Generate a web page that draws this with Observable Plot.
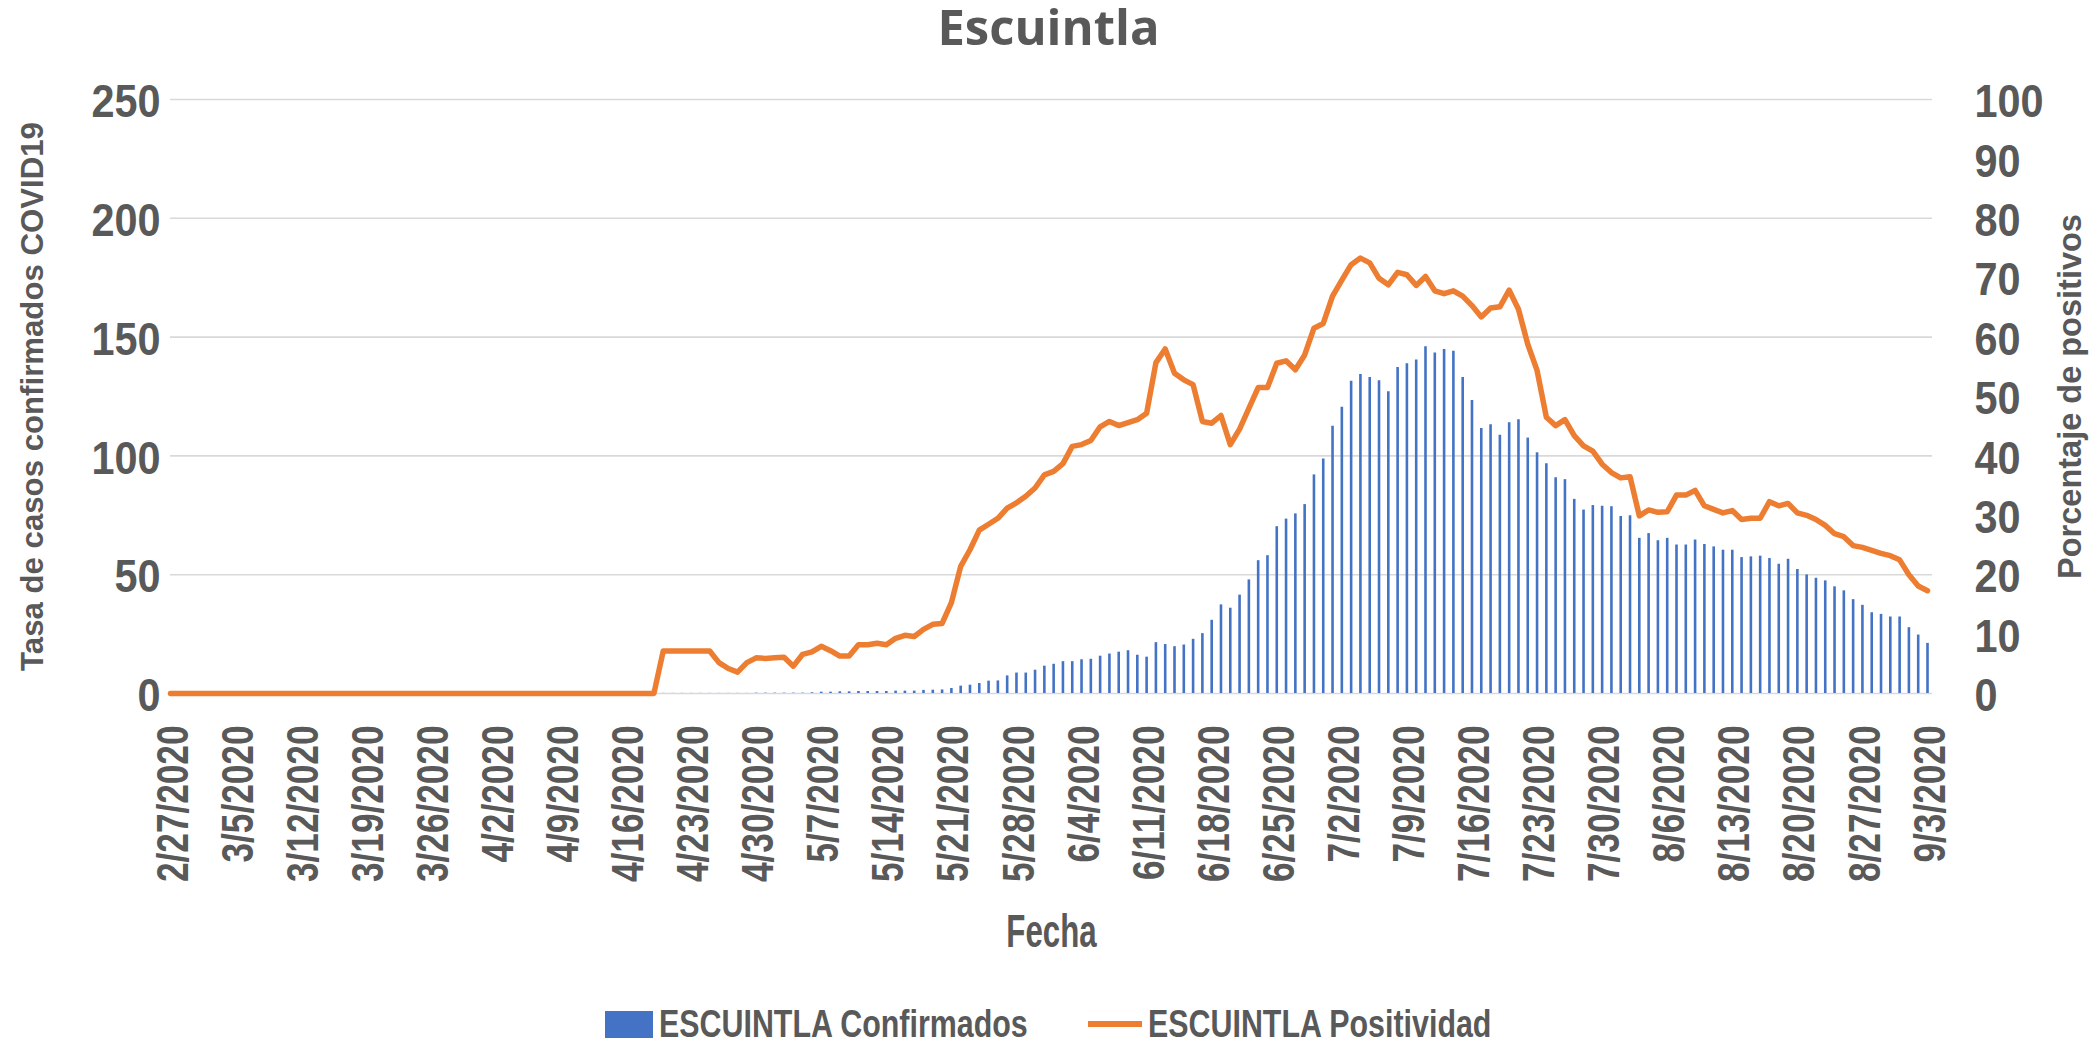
<!DOCTYPE html>
<html><head><meta charset="utf-8">
<script src="https://cdn.jsdelivr.net/npm/d3@7"></script>
<script src="https://cdn.jsdelivr.net/npm/@observablehq/plot@0.6"></script>
<style>
body{margin:0;background:#fff;width:2097px;height:1045px;overflow:hidden;position:relative}
#title{position:absolute;top:2px;left:0;width:2097px;text-align:center;font-family:"Open Sans",sans-serif;font-weight:bold;font-size:49px;line-height:1;color:#595959}
#chart{position:absolute;top:52px;left:0}
#legend{position:absolute;top:1000px;left:0;width:2097px;height:48px;display:flex;justify-content:center;align-items:center;font-family:"Liberation Sans",sans-serif;font-weight:bold;font-size:38px;color:#595959}
.item{display:flex;align-items:center}
.t{display:inline-block;transform:scaleX(0.8);transform-origin:0 50%;white-space:nowrap}
.sw-bar{display:inline-block;width:48px;height:27px;background:#4472C4;margin-right:6px}
.sw-line{display:inline-block;width:54px;height:6px;background:#ED7D31;margin-right:6px;margin-left:60px}
</style></head>
<body>
<div id="title">Escuintla</div>
<div id="chart"></div>
<div id="legend"><div class="item"><span class="sw-bar"></span><span class="t">ESCUINTLA Confirmados</span></div><div class="item"><span class="sw-line"></span><span class="t">ESCUINTLA Positividad</span></div></div>
<script>
const xTickLabels = ["2/27/2020","3/5/2020","3/12/2020","3/19/2020","3/26/2020","4/2/2020","4/9/2020","4/16/2020","4/23/2020","4/30/2020","5/7/2020","5/14/2020","5/21/2020","5/28/2020","6/4/2020","6/11/2020","6/18/2020","6/25/2020","7/2/2020","7/9/2020","7/16/2020","7/23/2020","7/30/2020","8/6/2020","8/13/2020","8/20/2020","8/27/2020","9/3/2020"];
const leftTicks = [0,50,100,150,200,250];
const rightTicks = [0,10,20,30,40,50,60,70,80,90,100];
// daily confirmed rate, 2/27/2020 .. 9/3/2020
const confirmados = [
0,0,0,0,0,0,0,0,0,0, 0,0,0,0,0,0,0,0,0,0, 0,0,0,0,0,0,0,0,0,0,
0,0,0,0,0,0,0,0,0,0, 0,0,0,0,0,0,0,0,0,0, 0,0,0,
0.05,0.05,0.05,0.05,0.05,0.05,0.05,0.05,0.05,0.05,
0.15,0.15,0.15,0.15,0.15,0.15,
0.3,0.55,0.55,0.7,0.7,0.85,0.85,0.85,0.85,1.0,1.0,1.0,1.3,1.4,1.5,
2.1,3.1,3.5,4.2,5.2,5.3,7.4,8.6,8.6,9.8,11.5,12.3,13.4,13.4,14.2,14.4,
15.7,16.6,17.4,18.0,16.1,15.3,21.4,20.6,19.7,20.4,22.8,25.2,30.8,37.3,35.9,
41.4,47.8,55.9,58.0,70.2,73.4,75.6,79.5,92.0,98.7,112.5,120.5,131.4,134.3,133.0,
131.6,127.0,137.2,138.8,140.4,145.9,143.3,144.8,144.0,133.0,123.3,111.5,113.1,108.7,113.9,
115.2,107.5,101.3,96.7,90.8,90.0,81.7,77.2,79.1,78.8,78.6,74.5,74.8,65.3,67.3,
64.3,65.3,62.5,62.5,64.6,62.7,61.7,60.3,60.3,57.2,57.5,57.8,56.8,54.4,56.5,
52.2,49.9,48.5,47.4,44.9,43.2,39.5,37.1,34.0,33.3,32.2,32.2,27.7,24.6,21.1
];
// daily positivity (%), same dates
const positividad = [
0,0,0,0,0,0,0,0,0,0, 0,0,0,0,0,0,0,0,0,0, 0,0,0,0,0,0,0,0,0,0,
0,0,0,0,0,0,0,0,0,0, 0,0,0,0,0,0,0,0,0,0, 0,0,0,
7.14,7.14,7.14,7.14,7.14,7.14,
5.2,4.2,3.6,5.2,6.0,5.9,6.0,6.1,4.6,6.6,7.0,7.95,7.2,6.3,6.3,
8.2,8.2,8.45,8.2,9.3,9.8,9.6,10.8,11.65,11.8,15.3,21.4,24.2,27.5,28.5,
29.5,31.2,32.1,33.2,34.6,36.8,37.4,38.7,41.6,41.9,42.6,44.9,45.8,45.1,45.6,
46.1,47.2,55.7,58.0,53.9,52.8,52.0,45.8,45.5,46.8,41.9,44.5,48.0,51.5,51.5,
55.6,56.0,54.5,57.0,61.5,62.3,66.9,69.6,72.2,73.3,72.5,69.9,68.8,70.9,70.5,
68.7,70.2,67.8,67.3,67.8,66.9,65.3,63.4,64.9,65.1,67.9,64.7,58.8,54.4,46.5,
45.1,46.1,43.4,41.7,40.8,38.6,37.2,36.3,36.5,29.9,30.9,30.5,30.6,33.4,33.4,
34.2,31.6,31.0,30.4,30.8,29.3,29.5,29.5,32.3,31.6,32.0,30.4,30.0,29.3,28.3,
26.9,26.4,24.9,24.6,24.1,23.6,23.2,22.5,20.0,18.1,17.3
];
const FONT = '"Liberation Sans",Arial,sans-serif';
const parseMDY = s => { const [m, d, y] = s.split("/").map(Number); return new Date(Date.UTC(y, m - 1, d)); };
const tickDates = xTickLabels.map(parseMDY);
const dates = d3.utcDay.range(tickDates[0], d3.utcDay.offset(tickDates[tickDates.length - 1], 1));
const K = 250 / 100; // right axis (0-100) mapped onto left axis (0-250)
const data = dates.map((d, i) => ({date: d, conf: confirmados[i], pos: positividad[i] * K}));
const labelOf = new Map(tickDates.map((d, i) => [+d, xTickLabels[i]]));

const chart = Plot.plot({
  width: 2097, height: 920,
  marginTop: 47, marginBottom: 279, marginLeft: 170, marginRight: 165,
  style: {fontFamily: FONT, color: "#595959", background: "white", overflow: "visible"},
  x: {type: "utc", domain: [dates[0], dates[dates.length - 1]], range: [170, 1927]},
  y: {domain: [0, 250]},
  marks: [
    Plot.gridY(leftTicks, {stroke: "#D9D9D9", strokeOpacity: 1, strokeWidth: 1.6}),
    Plot.ruleX(data, {x: "date", y1: 0, y2: "conf", stroke: "#4472C4", strokeWidth: 2.6}),
    Plot.line(data, {x: "date", y: "pos", stroke: "#ED7D31", strokeWidth: 5.5, strokeLinejoin: "round", strokeLinecap: "round"}),
    Plot.axisY({ticks: leftTicks, tickSize: 0, tickPadding: 10, dy: 3, fontSize: 46, fontWeight: "bold", label: null}),
    Plot.axisY({anchor: "right", ticks: rightTicks.map(v => v * K), tickFormat: v => String(Math.round(v / K)), tickSize: 0, tickPadding: 42, dy: 3, fontSize: 46, fontWeight: "bold", label: null}),
    Plot.axisX({ticks: tickDates, tickFormat: d => labelOf.get(+d), tickRotate: -90, tickSize: 0, tickPadding: 32, dx: 3, fontSize: 44, fontWeight: "bold", label: null}),
    Plot.text(["Fecha"], {text: d => d, frameAnchor: "bottom", lineAnchor: "middle", textAnchor: "middle", dy: 239, fontSize: 46, fontWeight: "bold", fill: "#595959"}),
    Plot.text(["Tasa de casos confirmados COVID19"], {text: d => d, frameAnchor: "left", textAnchor: "middle", lineAnchor: "middle", dx: -137, rotate: -90, fontSize: 31.2, fontWeight: "bold", fill: "#595959"}),
    Plot.text(["Porcentaje de positivos"], {text: d => d, frameAnchor: "right", textAnchor: "middle", lineAnchor: "middle", dx: 138, rotate: -90, fontSize: 32.5, fontWeight: "bold", fill: "#595959"})
  ]
});
document.getElementById("chart").appendChild(chart);

// emulate the condensed typeface of the reference by compressing along the text direction
function squeezeEl(el, s) {
  const t = el.getAttribute("transform") || "";
  el.setAttribute("transform", `${t} scale(${s},1)`);
}
chart.querySelectorAll('g[aria-label="x-axis tick label"] text').forEach(el => squeezeEl(el, 0.8));
chart.querySelectorAll('g[aria-label="y-axis tick label"] text').forEach(el => squeezeEl(el, 0.9));
chart.querySelectorAll("text").forEach(el => { if (el.textContent === "Fecha") squeezeEl(el, 0.68); });
document.querySelectorAll("#legend .t").forEach(el => { el.style.marginRight = (-0.2 * el.offsetWidth) + "px"; });
</script>
</body></html>
